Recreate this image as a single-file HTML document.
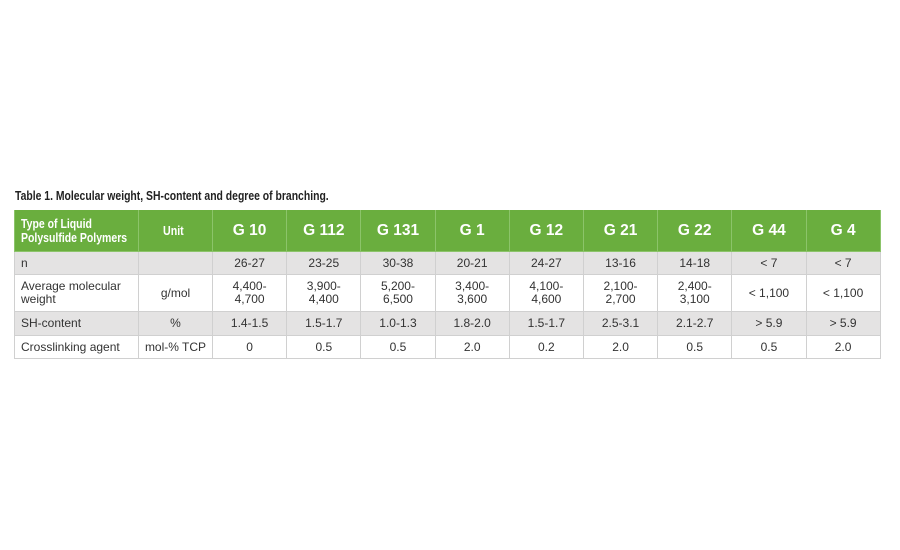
<!DOCTYPE html>
<html><head><meta charset="utf-8"><style>
body{margin:0;width:900px;height:550px;background:#fff;position:relative;overflow:hidden;font-family:"Liberation Sans",sans-serif;}
#title{position:absolute;left:15px;top:189px;font-size:12.7px;font-weight:bold;color:#222;transform:scaleX(0.82);transform-origin:left;white-space:nowrap;}
table{position:absolute;left:14px;top:210px;width:866px;border-collapse:collapse;table-layout:fixed;font-size:12px;color:#333;}
td,th{border:1px solid #d0d0d0;text-align:center;padding:0;line-height:13px;}
th{background:#6aae3e;color:#fff;font-weight:bold;height:41px;font-size:15.5px;border-color:#8cc46a;border-top:none;}
th.first{text-align:left;padding-left:6px;font-size:12.8px;line-height:14px;}
th.first span,th.unit span{display:inline-block;transform:scaleX(0.82);transform-origin:left;white-space:nowrap;}
th.unit{font-size:13px}
td.first{text-align:left;padding-left:6px;}
tr.g td{background:#e4e3e3;}
tr.r1 td{height:22px}tr.r2 td{height:36px}tr.r3 td{height:23px}tr.r4 td{height:22px}
</style></head><body>
<div id="title">Table 1. Molecular weight, SH-content and degree of branching.</div>
<table>
<colgroup><col style="width:124px"><col style="width:74px"><col span="9" style="width:74.2px"></colgroup>
<tr><th class="first"><span>Type of Liquid<br>Polysulfide Polymers</span></th><th class="unit"><span>Unit</span></th><th>G 10</th><th>G 112</th><th>G 131</th><th>G 1</th><th>G 12</th><th>G 21</th><th>G 22</th><th>G 44</th><th>G 4</th></tr>
<tr class="g r1"><td class="first">n</td><td></td><td>26-27</td><td>23-25</td><td>30-38</td><td>20-21</td><td>24-27</td><td>13-16</td><td>14-18</td><td>&lt; 7</td><td>&lt; 7</td></tr>
<tr class="r2"><td class="first">Average molecular<br>weight</td><td>g/mol</td><td>4,400-<br>4,700</td><td>3,900-<br>4,400</td><td>5,200-<br>6,500</td><td>3,400-<br>3,600</td><td>4,100-<br>4,600</td><td>2,100-<br>2,700</td><td>2,400-<br>3,100</td><td>&lt; 1,100</td><td>&lt; 1,100</td></tr>
<tr class="g r3"><td class="first">SH-content</td><td>%</td><td>1.4-1.5</td><td>1.5-1.7</td><td>1.0-1.3</td><td>1.8-2.0</td><td>1.5-1.7</td><td>2.5-3.1</td><td>2.1-2.7</td><td>&gt; 5.9</td><td>&gt; 5.9</td></tr>
<tr class="r4"><td class="first">Crosslinking agent</td><td>mol-% TCP</td><td>0</td><td>0.5</td><td>0.5</td><td>2.0</td><td>0.2</td><td>2.0</td><td>0.5</td><td>0.5</td><td>2.0</td></tr>
</table>
</body></html>
